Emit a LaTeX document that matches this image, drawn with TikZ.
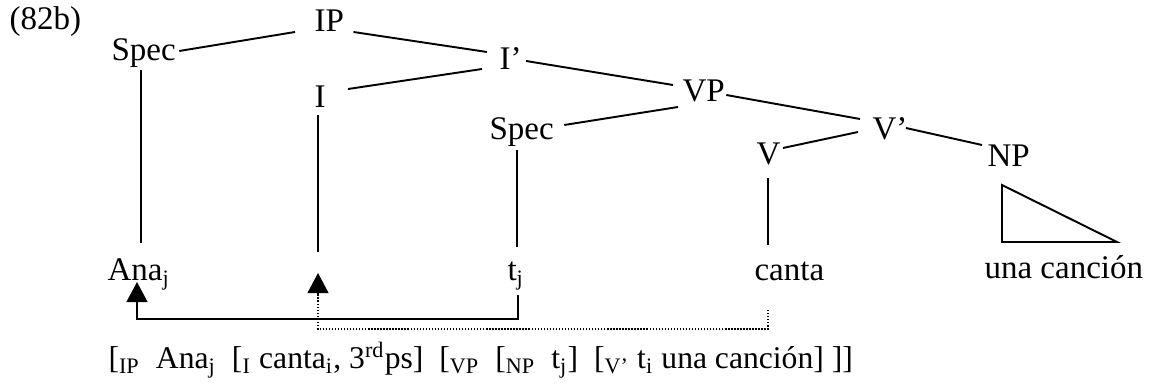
\documentclass[tikz,border=0pt]{standalone}
\usepackage{fontspec}
\setmainfont{Liberation Serif}
\usetikzlibrary{arrows.meta}
\begin{document}
\begin{tikzpicture}[x=0.3636pt, y=-0.3636pt,
  lab/.style={inner sep=0pt, anchor=base west, font=\fontsize{12}{14}\selectfont},
  edge/.style={line width=0.7pt},
  trace/.style={line width=0.5pt, dash pattern=on 0.5pt off 0.6pt},
  tip/.style={-{Triangle[width=7.6pt,length=7.3pt]}}]
\useasboundingbox (0,0) rectangle (1152,389);
% labels
\node[lab] (ex) at (9,30) {(82b)};
\node[lab] (IP) at (314,32) {IP};
\node[lab] (SpecL) at (111,61) {Spec};
\node[lab] (Ib) at (499,70) {I’};
\node[lab] (I) at (314,108) {I};
\node[lab] (VP) at (682,102) {VP};
\node[lab] (SpecM) at (489,140) {Spec};
\node[lab] (Vb) at (872,140) {V’};
\node[lab] (V) at (756,165) {V};
\node[lab] (NP) at (987,167) {NP};
\node[lab] (Ana) at (107,281) {Ana\textsubscript{j}};
\node[lab] (tj) at (507,281) {t\textsubscript{j}};
\node[lab] (canta) at (754,281) {canta};
\node[lab] (una) at (984,279) {una canción};
\coordinate (Ibot) at (318,252);
\coordinate (Iarr) at (318,273);
\node[lab, font=\fontsize{11.5}{14}\selectfont] (gloss) at (108,369) {[\textsubscript{IP}\ \ Ana\textsubscript{j}\ \ [\textsubscript{I} canta\textsubscript{i}, 3\textsuperscript{rd}ps]\ \ [\textsubscript{VP}\ \ [\textsubscript{NP}\ \ t\textsubscript{j}]\ \ [\textsubscript{V’} t\textsubscript{i} una canción] ]]};
% branches
\draw[edge] ([shift={(3,-10)}]SpecL.base east) -- ([shift={(-19,0)}]IP.base west);
\draw[edge] ([shift={(9,0)}]IP.base east) -- ([shift={(-12,-18)}]Ib.base west);
\draw[edge] ([shift={(22,-19)}]I.base east) -- ([shift={(-17,-1)}]Ib.base west);
\draw[edge] ([shift={(4,-9)}]Ib.base east) -- ([shift={(-9,-17)}]VP.base west);
\draw[edge] ([shift={(10,-15)}]SpecM.base east) -- ([shift={(-4,5)}]VP.base west);
\draw[edge] ([shift={(1,-7)}]VP.base east) -- ([shift={(-12,-21)}]Vb.base west);
\draw[edge] ([shift={(2,-17)}]V.base east) -- ([shift={(-14,-8)}]Vb.base west);
\draw[edge] ([shift={(-2,-12)}]Vb.base east) -- ([shift={(-5,-22)}]NP.base west);
\draw[edge] ([shift={(15,18)}]NP.base west) -- ++(0,57) -- ++(115,0) -- cycle;
% verticals
\draw[edge] ([shift={(30,9)}]SpecL.base west) -- ([shift={(34,-38)}]Ana.base west);
\draw[edge] ([shift={(4,7)}]I.base west) -- (Ibot);
\draw[edge] ([shift={(28,10)}]SpecM.base west) -- ([shift={(10,-34)}]tj.base west);
\draw[edge] ([shift={(12,13)}]V.base west) -- ([shift={(14,-36)}]canta.base west);
% movement arrows
\draw[edge, tip] ([shift={(11,14)}]tj.base west) -- ++(0,24) -| ([shift={(30,1)}]Ana.base west);
\draw[trace, tip] ([shift={(14,29)}]canta.base west) -- ++(0,19) -| (Iarr);
\end{tikzpicture}
\end{document}
